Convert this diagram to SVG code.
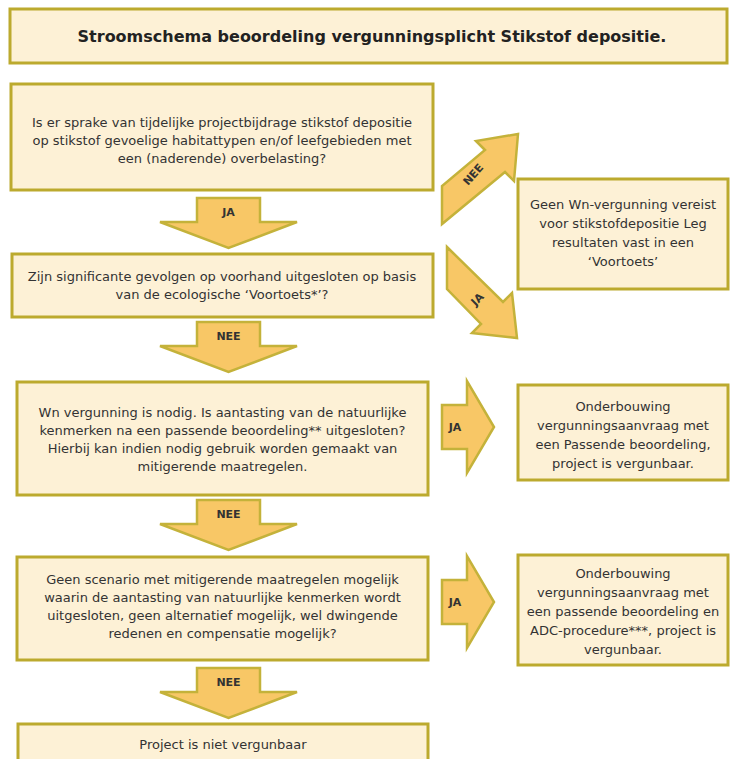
<svg xmlns="http://www.w3.org/2000/svg" width="734" height="759" viewBox="0 0 734 759">
<style>
.box{fill:#FDF1D6;stroke:#BCAA2E;stroke-width:3}
.arr{fill:#F8C766;stroke:#C4B23A;stroke-width:2.5;stroke-linejoin:miter}
.t{font-family:"DejaVu Sans",Verdana,sans-serif;font-size:13px;fill:#333;text-anchor:middle}
.title{font-family:"DejaVu Sans",Verdana,sans-serif;font-size:16px;font-weight:bold;fill:#222;text-anchor:middle}
.lbl{font-family:"DejaVu Sans",Verdana,sans-serif;font-size:11px;font-weight:bold;fill:#333;text-anchor:middle}
</style>
<rect width="734" height="759" fill="#fff"/>
<g id="title">
<rect class="box" x="10" y="9" width="717" height="54"/>
<text class="title" x="372" y="42">Stroomschema beoordeling vergunningsplicht Stikstof depositie.</text>
</g>
<g id="connectors">
<polygon class="arr" points="197,198 260,198 260,222 297,222 228.5,248 160,222 197,222"/>
<text class="lbl" x="228.5" y="216">JA</text>
<polygon class="arr" points="197,322 260,322 260,346 297,346 228.5,372 160,346 197,346"/>
<text class="lbl" x="228.5" y="340">NEE</text>
<polygon class="arr" points="197,500 260,500 260,524 297,524 228.5,550 160,524 197,524"/>
<text class="lbl" x="228.5" y="518">NEE</text>
<polygon class="arr" points="197,668 260,668 260,692 297,692 228.5,718 160,692 197,692"/>
<text class="lbl" x="228.5" y="686">NEE</text>
<polygon class="arr" points="518,134 476,141 485,150 442,186 442,224 505,172 514,181"/>
<text class="lbl" transform="translate(476,177) rotate(-48)">NEE</text>
<polygon class="arr" points="447,247 503,302 512,293 517,338 472,333 481,324 447,289"/>
<text class="lbl" transform="translate(480,302) rotate(-45)">JA</text>
<polygon class="arr" points="442,405 467,405 467,381 494,427 467,473 467,449 442,449"/>
<text class="lbl" x="455" y="431">JA</text>
<polygon class="arr" points="442,580 467,580 467,556 494,602 467,648 467,624 442,624"/>
<text class="lbl" x="455" y="606">JA</text>
</g>
<g id="q1">
<rect class="box" x="11" y="84" width="422" height="106"/>
<text class="t" x="222" y="127">Is er sprake van tijdelijke projectbijdrage stikstof depositie</text>
<text class="t" x="222" y="145">op stikstof gevoelige habitattypen en/of leefgebieden met</text>
<text class="t" x="222" y="163">een (naderende) overbelasting?</text>
</g>
<g id="q2">
<rect class="box" x="12" y="254" width="421" height="63"/>
<text class="t" x="222" y="281">Zijn significante gevolgen op voorhand uitgesloten op basis</text>
<text class="t" x="222" y="299">van de ecologische ‘Voortoets*’?</text>
</g>
<g id="q3">
<rect class="box" x="17" y="382" width="411" height="113"/>
<text class="t" x="222.5" y="417">Wn vergunning is nodig. Is aantasting van de natuurlijke</text>
<text class="t" x="222.5" y="435">kenmerken na een passende beoordeling** uitgesloten?</text>
<text class="t" x="222.5" y="453">Hierbij kan indien nodig gebruik worden gemaakt van</text>
<text class="t" x="222.5" y="471">mitigerende maatregelen.</text>
</g>
<g id="q4">
<rect class="box" x="17" y="557" width="411" height="103"/>
<text class="t" x="222.5" y="584">Geen scenario met mitigerende maatregelen mogelijk</text>
<text class="t" x="222.5" y="602">waarin de aantasting van natuurlijke kenmerken wordt</text>
<text class="t" x="222.5" y="620">uitgesloten, geen alternatief mogelijk, wel dwingende</text>
<text class="t" x="222.5" y="638">redenen en compensatie mogelijk?</text>
</g>
<g id="end">
<rect class="box" x="18" y="724" width="410" height="50"/>
<text class="t" x="223" y="749">Project is niet vergunbaar</text>
</g>
<g id="r1">
<rect class="box" x="518" y="179" width="210" height="110"/>
<text class="t" x="623" y="209">Geen Wn-vergunning vereist</text>
<text class="t" x="623" y="228">voor stikstofdepositie Leg</text>
<text class="t" x="623" y="247">resultaten vast in een</text>
<text class="t" x="623" y="266">‘Voortoets’</text>
</g>
<g id="r2">
<rect class="box" x="518" y="385" width="210" height="95"/>
<text class="t" x="623" y="411">Onderbouwing</text>
<text class="t" x="623" y="430">vergunningsaanvraag met</text>
<text class="t" x="623" y="449">een Passende beoordeling,</text>
<text class="t" x="623" y="468">project is vergunbaar.</text>
</g>
<g id="r3">
<rect class="box" x="518" y="555" width="210" height="110"/>
<text class="t" x="623" y="578">Onderbouwing</text>
<text class="t" x="623" y="597">vergunningsaanvraag met</text>
<text class="t" x="623" y="616">een passende beoordeling en</text>
<text class="t" x="623" y="635">ADC-procedure***, project is</text>
<text class="t" x="623" y="654">vergunbaar.</text>
</g>
</svg>
